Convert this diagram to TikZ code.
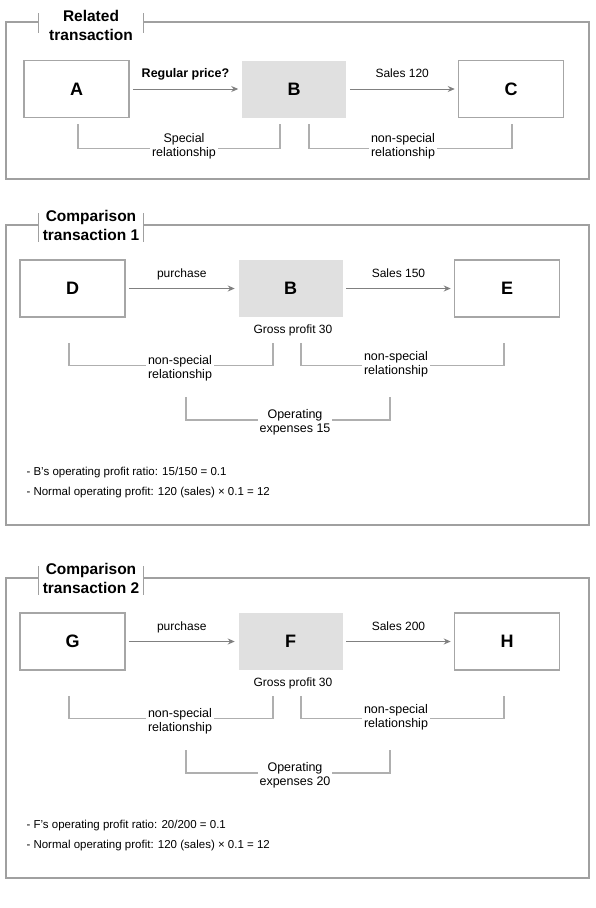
\documentclass[tikz,border=0pt]{standalone}
\usepackage{fontspec}
\setmainfont{Liberation Sans}
\usetikzlibrary{arrows.meta}
\definecolor{framegray}{RGB}{160,160,160}
\definecolor{boxgray}{RGB}{166,166,166}
\definecolor{linegray}{RGB}{175,175,175}
\definecolor{arrowgray}{RGB}{128,128,128}
\definecolor{fillgray}{RGB}{224,224,224}
\tikzset{
  party/.style={draw=boxgray, line width=1.5pt, fill=white, minimum width=105pt,
    minimum height=57pt, inner sep=0pt, font=\fontsize{18}{20}\selectfont\bfseries},
  subject/.style={party, draw=none, fill=fillgray, minimum width=104pt},
  flow/.style={draw=arrowgray, line width=1pt, -{Stealth[length=7pt,width=6pt]},
    shorten <=3pt, shorten >=3pt},
  bracket/.style={draw=linegray, line width=1.2pt},
  rel/.style={fill=white, align=center, inner sep=2pt, font=\fontsize{12.5}{14}\selectfont},
  lbl/.style={font=\fontsize{12}{14}\selectfont},
  note/.style={anchor=west, font=\fontsize{11.5}{14}\selectfont},
  flowlbl/.style={lbl, above=5pt, text depth=2.5pt},
  panel/.style={draw=framegray, line width=2pt},
  tick/.style={draw=framegray, line width=1pt},
  heading/.style={fill=white, minimum width=104pt, align=center, inner sep=0pt,
    font=\fontsize{15.5}{19}\selectfont\bfseries},
}
\begin{document}
\begin{tikzpicture}[x=1pt,y=-1pt]
  \useasboundingbox (0,0) rectangle (596,908);
  % related transaction
  \draw[panel] (6,22) rectangle (589,179);
  \node[heading] (head0) at (91,25.5) {Related\\transaction};
  \draw[tick] ([yshift=12.5pt]head0.west) -- ([yshift=-7.5pt]head0.west)
              ([yshift=12.5pt]head0.east) -- ([yshift=-7.5pt]head0.east);
  \node[party] (A) at (76.5,89) {A};
  \node[subject] (B) at (294,89) {B};
  \node[party] (C) at (511,89) {C};
  \draw[flow] (A) -- node[flowlbl, font=\fontsize{12.5}{14}\selectfont\bfseries] {Regular price?} (B);
  \draw[flow] (B) -- node[flowlbl] {Sales 120} (C);
  \draw[bracket] ([shift={(1.5,6)}]A.south) -- ++(0,24) -| ([shift={(-14,6)}]B.south);
  \draw[bracket] ([shift={(15,6)}]B.south) -- ++(0,24) -| ([shift={(1,6)}]C.south);
  \node[rel] (relAB) at (184,146) {Special\\relationship};
  \node[rel] (relBC) at (403,146) {non-special\\relationship};
  % comparison transactions
  \foreach \n/\dy/\L/\M/\R/\sales/\ops in {1/0/D/B/E/150/15, 2/353/G/F/H/200/20}{
    \begin{scope}[yshift=-\dy pt]
      \draw[panel] (6,225) rectangle (589,525);
      \node[heading] (head\n) at (91,225.5) {Comparison\\transaction \n};
      \draw[tick] ([yshift=12.5pt]head\n.west) -- ([yshift=-16.5pt]head\n.west)
                  ([yshift=12.5pt]head\n.east) -- ([yshift=-16.5pt]head\n.east);
      \node[party] (buy\n) at (72.5,288.5) {\L};
      \node[subject] (tested\n) at (290.5,288.5) {\M};
      \node[party] (sell\n) at (507,288.5) {\R};
      \draw[flow] (buy\n) -- node[flowlbl] {purchase} (tested\n);
      \draw[flow] (tested\n) -- node[flowlbl] {Sales \sales} (sell\n);
      \node[lbl] (gross\n) at (293,330) {Gross profit 30};
      \draw[bracket] ([shift={(-3.5,25)}]buy\n.south) -- ++(0,23) -| ([shift={(-17.5,25)}]tested\n.south);
      \draw[bracket] ([shift={(10.5,25)}]tested\n.south) -- ++(0,23) -| ([shift={(-3,25)}]sell\n.south);
      \coordinate (opsL\n) at (186,397);
      \coordinate (opsR\n) at (390,397);
      \draw[bracket] (opsL\n) -- ++(0,23) -| (opsR\n);
      \node[rel] (relBuy\n) at (180,368) {non-special\\relationship};
      \node[rel] (relSell\n) at (396,364) {non-special\\relationship};
      \node[rel] (ops\n) at (295,422) {Operating\\expenses \ops};
      \node[note] (ratio\n) at (23,473) {- \M’s operating profit ratio: \ops/\sales{} = 0.1};
      \node[note] (normal\n) at (23,493) {- Normal operating profit: 120 (sales) × 0.1 = 12};
    \end{scope}
  }
\end{tikzpicture}
\end{document}
